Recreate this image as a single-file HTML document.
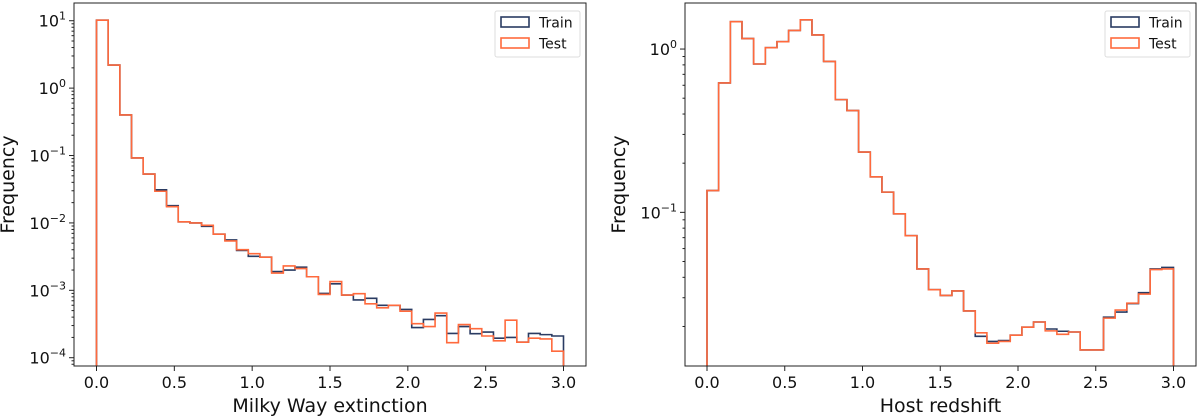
<!DOCTYPE html>
<html><head><meta charset="utf-8"><style>
body{margin:0;background:#fff;}
svg{display:block;font-family:"DejaVu Sans","Liberation Sans",sans-serif;}
</style></head><body>
<svg id="chart" width="1200" height="418" viewBox="0 0 1200 418" xmlns="http://www.w3.org/2000/svg"></svg>
<script>
const bins = 40;
const xTicks = [0, 0.5, 1.0, 1.5, 2.0, 2.5, 3.0];
const xTickLabels = ["0.0","0.5","1.0","1.5","2.0","2.5","3.0"];
const extTrain = [10.2,2.2,0.40,0.092,0.053,0.031,0.018,0.0104,0.0100,0.0089,0.0068,0.0056,0.0039,0.0032,0.0031,0.0019,0.0020,0.0022,0.00159,0.00090,0.00125,0.00085,0.00072,0.00076,0.00060,0.00060,0.00052,0.00028,0.00037,0.00042,0.000229,0.00029,0.000227,0.00024,0.000195,0.00020,0.00017,0.000229,0.00022,0.00021];
const extTest = [10.2,2.2,0.40,0.092,0.053,0.0295,0.0174,0.0104,0.0100,0.0092,0.0068,0.0054,0.0040,0.0035,0.0031,0.0018,0.0023,0.0021,0.00159,0.00087,0.00135,0.00085,0.00089,0.00063,0.00055,0.00060,0.00049,0.00032,0.00029,0.00046,0.000167,0.00031,0.00027,0.00021,0.000178,0.00036,0.00017,0.000195,0.00019,0.000125];
const zTrain = [0.136,0.62,1.47,1.16,0.81,1.02,1.11,1.30,1.51,1.22,0.84,0.49,0.42,0.234,0.165,0.133,0.098,0.072,0.045,0.0336,0.031,0.033,0.0249,0.0174,0.0162,0.0164,0.0177,0.0198,0.0213,0.0193,0.0187,0.0185,0.01436,0.01436,0.0228,0.0245,0.0276,0.0322,0.045,0.046];
const zTest = [0.136,0.62,1.47,1.16,0.81,1.02,1.11,1.30,1.51,1.22,0.84,0.49,0.42,0.234,0.165,0.133,0.098,0.072,0.045,0.0336,0.031,0.033,0.0249,0.0183,0.0158,0.0162,0.0177,0.0198,0.0213,0.0188,0.0179,0.0185,0.01436,0.01436,0.0225,0.0252,0.0278,0.0316,0.0446,0.045];
const leftDecades = [1,0,-1,-2,-3,-4];
const rightDecades = [0,-1];

const NS="http://www.w3.org/2000/svg";
const svg=document.getElementById('chart');
function mk(tag,attrs,parent){const e=document.createElementNS(NS,tag);for(const k in attrs)e.setAttribute(k,attrs[k]);(parent||svg).appendChild(e);return e;}
const TRAIN="#2a3b62", TEST="#ff6a3d";

function panel(cfg){
  const g=mk('g',{});
  
  
  const X=v=>cfg.x0+(v-0)/3*(cfg.x3-cfg.x0);
  const Y=v=>cfg.top+(cfg.lmax-Math.log10(v))/(cfg.lmax-cfg.lmin)*(cfg.bottom-cfg.top);
  [[cfg.train,TRAIN,'train'],[cfg.test,TEST,'test']].forEach(([arr,col,nm])=>{
    const w=3/bins;
    let d=`M${X(0)},${cfg.bottom}`;
    arr.forEach((v,i)=>{const y=Math.min(Y(v),cfg.bottom);d+=` L${X(i*w)},${y} L${X((i+1)*w)},${y}`;});
    d+=` L${X(3)},${cfg.bottom}`;
    const p=mk('path',{d:d,fill:'none',stroke:col,'stroke-width':1.6,'stroke-linejoin':'miter'},g);
    
    
  });
  const fr=mk('rect',{x:cfg.left,y:cfg.top,width:cfg.right-cfg.left,height:cfg.bottom-cfg.top,fill:'none',stroke:'#222','stroke-width':1},g);
  
  
  xTicks.forEach((t,i)=>{
    mk('line',{x1:X(t),x2:X(t),y1:cfg.bottom,y2:cfg.bottom+5,stroke:'#222'},g);
    const tx=mk('text',{x:X(t),y:cfg.bottom+22,'text-anchor':'middle','font-size':16,fill:'#111'},g);
    tx.textContent=xTickLabels[i];
    
    
  });
  for(let dec=Math.floor(cfg.lmin);dec<=Math.ceil(cfg.lmax);dec++){
    for(let m=1;m<10;m++){
      const l=dec+Math.log10(m);
      if(l<cfg.lmin||l>cfg.lmax)continue;
      const y=Y(Math.pow(10,l));
      mk('line',{x1:cfg.left,x2:cfg.left-(m===1?5:2.5),y1:y,y2:y,stroke:'#222'},g);
    }
  }
  cfg.decades.forEach(dec=>{
    const y=Y(Math.pow(10,dec));
    const tx=mk('text',{x:cfg.left-8,y:y+6,'text-anchor':'end','font-size':16,fill:'#111'},g);
    
    
    const a=mk('tspan',{},tx);a.textContent='10';
    const b=mk('tspan',{dy:-7,'font-size':11},tx);b.textContent=String(dec).replace('-','\u2212');
  });
  const yl=mk('text',{x:0,y:0,transform:`translate(${cfg.left-60},${(cfg.top+cfg.bottom)/2}) rotate(-90)`,'text-anchor':'middle','font-size':19,fill:'#111'},g);
  yl.textContent='Frequency';
  
  
  const xl=mk('text',{x:(cfg.left+cfg.right)/2,y:412,'text-anchor':'middle','font-size':19,fill:'#111'},g);
  xl.textContent=cfg.xlabel;
  
  
  const lg=mk('g',{},g);
  
  
  const lx=cfg.right-91, ly=11;
  mk('rect',{x:lx,y:ly,width:85,height:46,rx:2,fill:'#fff',stroke:'#ddd'},lg);
  [['Train',TRAIN],['Test',TEST]].forEach(([t,c],i)=>{
    const e=mk('g',{},lg);
    
    
    mk('rect',{x:lx+6,y:ly+6+i*21,width:28,height:10,fill:'none',stroke:c,'stroke-width':1.6},e);
    const tt=mk('text',{x:lx+44,y:ly+16.5+i*21,'font-size':14,fill:'#111'},e);tt.textContent=t;
  });
}
panel({name:'milky-way-extinction-panel',left:74,right:586,top:3,bottom:366,x0:96.5,x3:563.5,lmax:1.263,lmin:-4.123,train:extTrain,test:extTest,decades:leftDecades,xlabel:'Milky Way extinction'});
panel({name:'host-redshift-panel',left:685,right:1196,top:3,bottom:366,x0:707,x3:1173.5,lmax:0.282,lmin:-1.941,train:zTrain,test:zTest,decades:rightDecades,xlabel:'Host redshift'});
</script>
</body></html>
